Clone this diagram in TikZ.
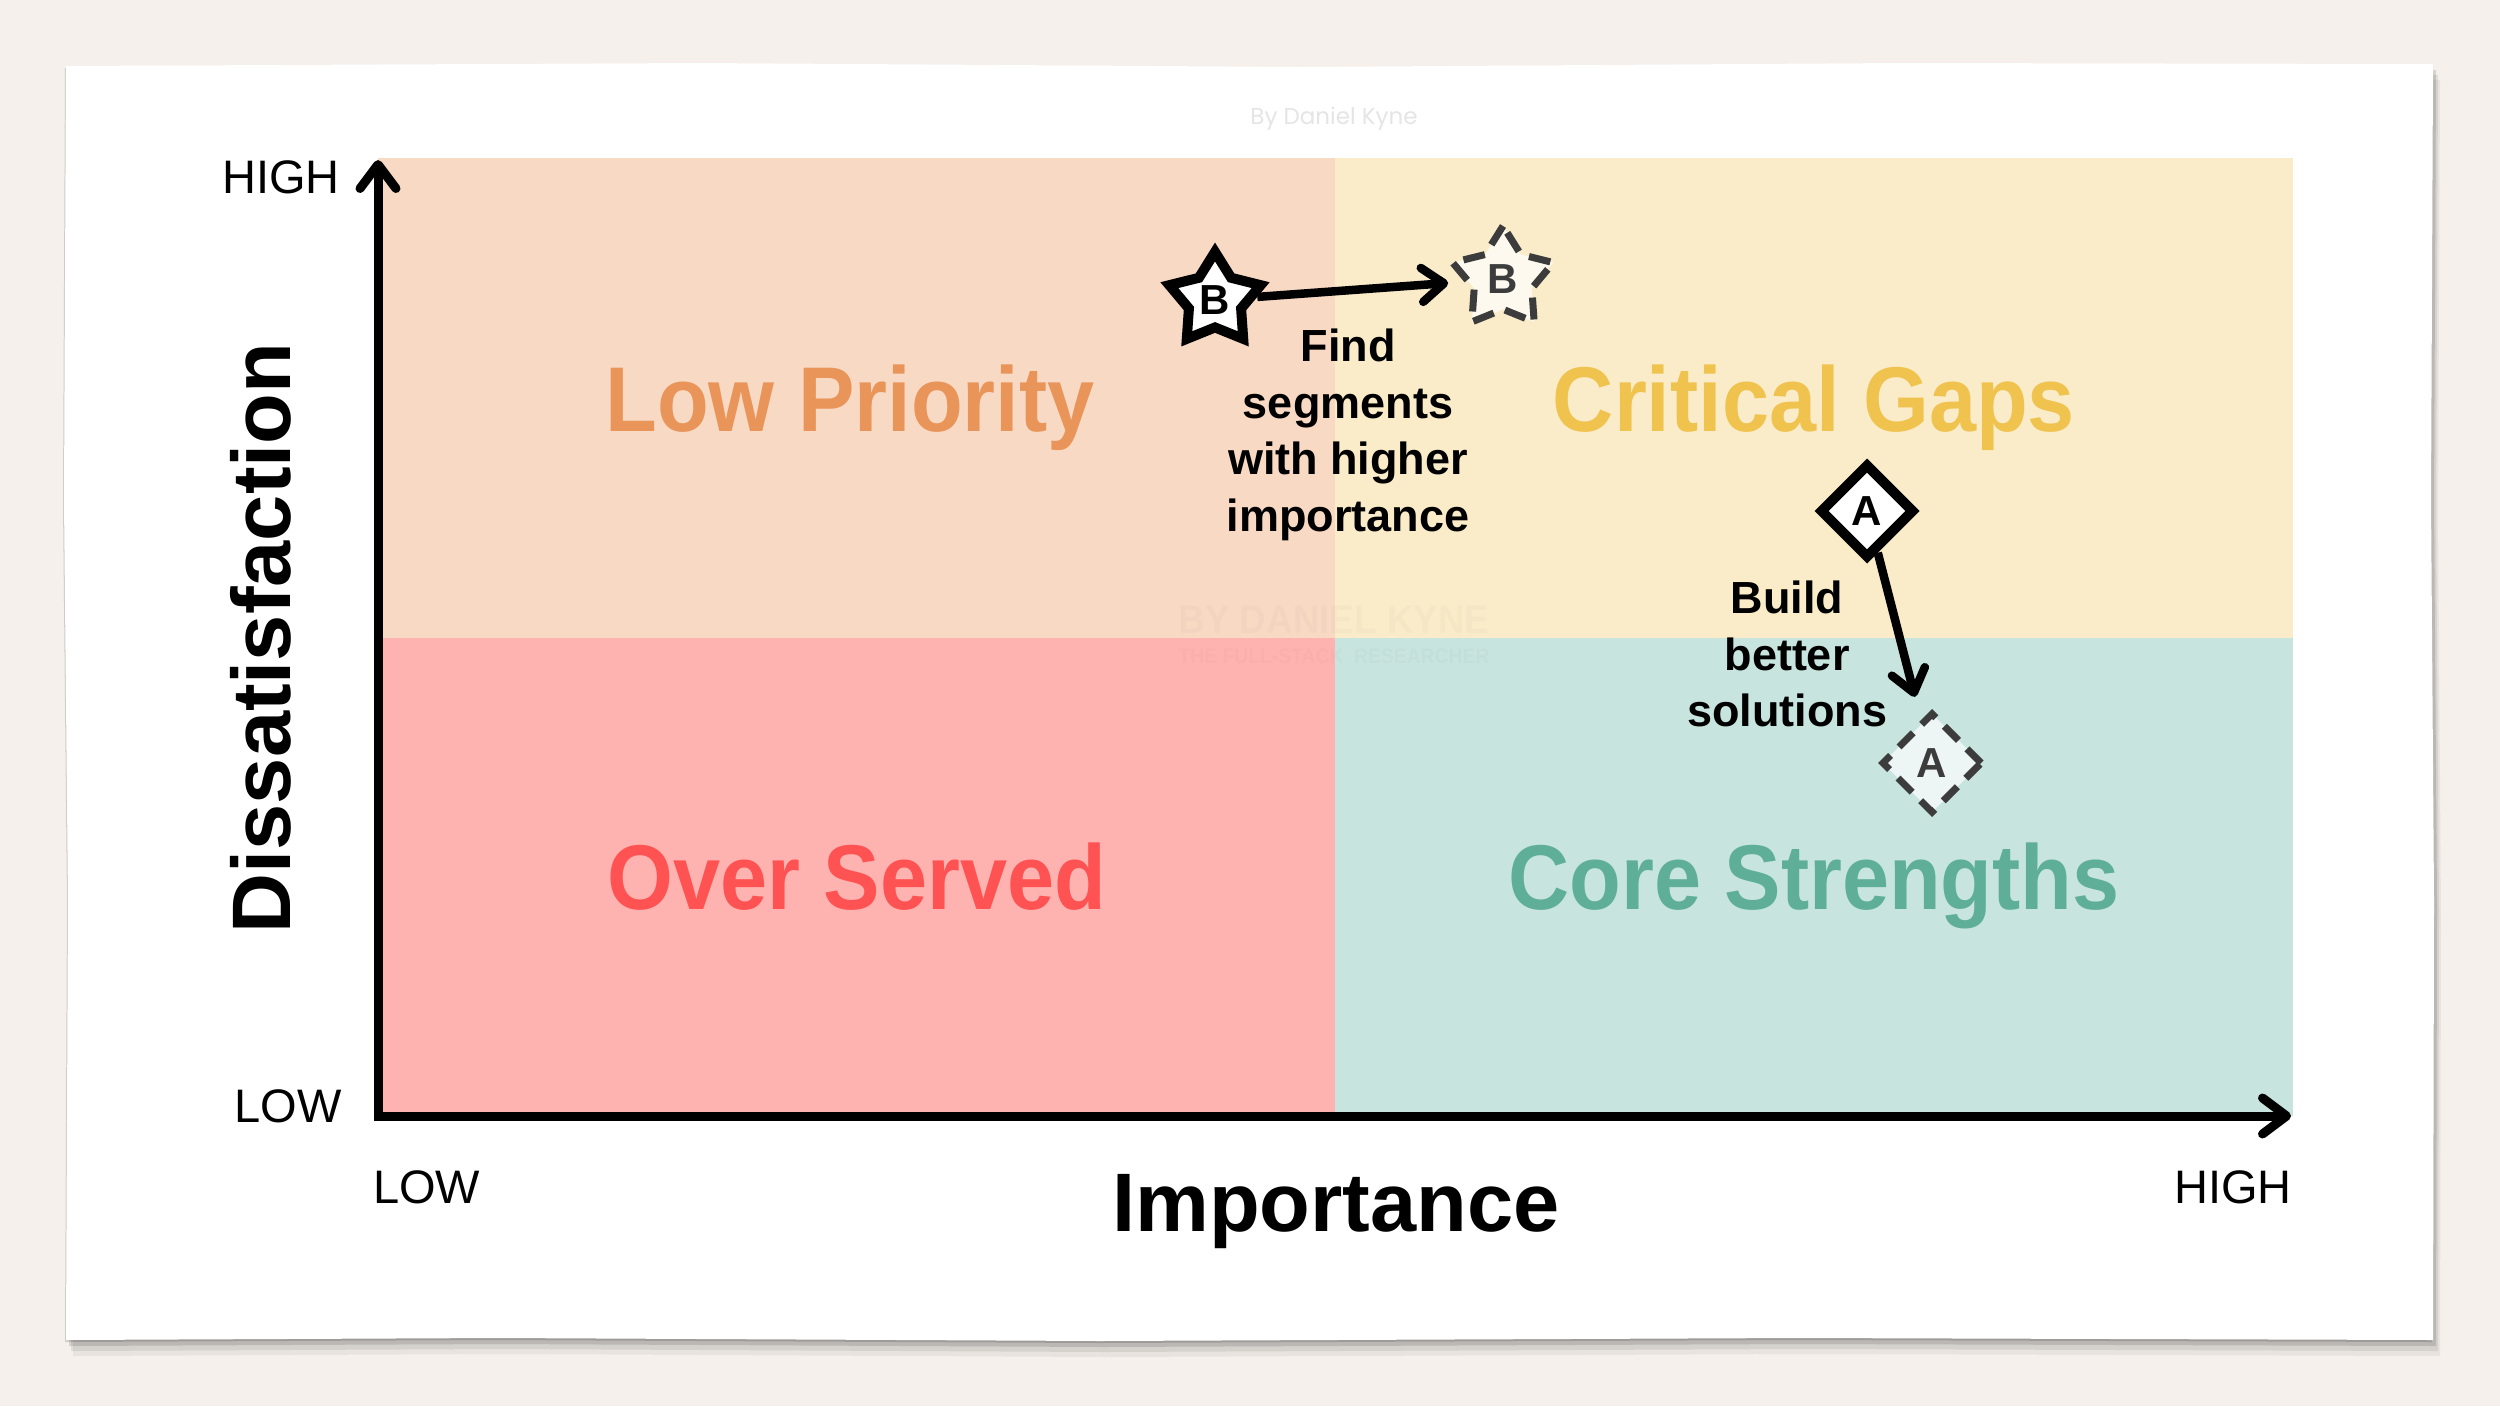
\documentclass[tikz,border=0pt]{standalone}
\usepackage{fontspec}
\setmainfont{Liberation Sans}
\newfontfamily\quadfont[FakeStretch=0.92]{Liberation Sans}
\newfontfamily\topfont{Poppins}
\usetikzlibrary{arrows.meta,shapes.geometric}
\definecolor{bgc}{HTML}{F5F0EB}
\definecolor{qLP}{HTML}{F8D9C4}
\definecolor{qCG}{HTML}{FAECC9}
\definecolor{qOS}{HTML}{FFB3B0}
\definecolor{qCS}{HTML}{C8E4DE}
\definecolor{tLP}{HTML}{E99459}
\definecolor{tCG}{HTML}{F0C24E}
\definecolor{tOS}{HTML}{FF5252}
\definecolor{tCS}{HTML}{5FAF98}
\definecolor{dgray}{HTML}{3C3C3C}
\tikzset{
  paperpath/.style={insert path={(66,66) -- (700,63) -- (1300,67) -- (1900,63) -- (2433,64) -- (2431,500) -- (2434,900) -- (2433,1340) -- (1800,1338) -- (1100,1341) -- (500,1338) -- (66,1340) -- (68,900) -- (64,500) -- cycle}},
  qlabel/.style={anchor=base, inner sep=0pt, font=\quadfont\bfseries\fontsize{92}{92}\selectfont},
  axlabel/.style={inner sep=0pt, font=\fontsize{47}{47}\selectfont},
  axtitle/.style={inner sep=0pt, font=\bfseries\fontsize{83}{83}\selectfont},
  axisline/.style={line width=9pt, line join=miter,
    {Straight Barb[round,length=24pt,width=36pt]}-{Straight Barb[round,length=24pt,width=36pt]}},
  conn/.style={line width=8.5pt, -{Straight Barb[round,length=22pt,width=34pt]}},
  solidstar/.style={star, star points=5, star point ratio=1.75, draw=black, line width=10pt,
    fill=white, inner sep=0pt, minimum size=96pt, font=\bfseries\fontsize{42}{42}\selectfont},
  ghoststar/.style={star, star points=5, star point ratio=1.75, draw=dgray, line width=7pt,
    dash pattern=on 22pt off 12pt, fill=white, fill opacity=0.7, text opacity=1, text=dgray,
    inner sep=0pt, minimum size=106pt, font=\bfseries\fontsize{42}{42}\selectfont},
  soliddiam/.style={diamond, aspect=1, draw=black, line width=10pt, fill=white, inner sep=0pt,
    minimum size=95pt, font=\bfseries\fontsize{42}{42}\selectfont},
  ghostdiam/.style={diamond, aspect=1, draw=dgray, line width=7pt, dash pattern=on 20pt off 12pt,
    fill=white, fill opacity=0.7, text opacity=1, text=dgray, inner sep=0pt,
    minimum size=101pt, font=\bfseries\fontsize{42}{42}\selectfont},
  note/.style={anchor=north, align=center, inner sep=0pt, font=\bfseries\fontsize{45}{56.5}\selectfont}
}
\begin{document}
\begin{tikzpicture}[x=1pt,y=-1pt]
\fill[bgc] (0,0) rectangle (2500,1406);
\useasboundingbox (0,0) rectangle (2500,1406);
% paper with shadow
\fill[black, opacity=0.05, shift={(7,16)}, paperpath];
\fill[black, opacity=0.08, shift={(5,11)}, paperpath];
\fill[black, opacity=0.12, shift={(3,6)}, paperpath];
\fill[black, opacity=0.15, shift={(-1,2)}, paperpath];
\fill[white, paperpath];
\node[inner sep=0pt, anchor=base, text=black!10, font=\topfont\fontsize{23}{23}\selectfont] (credit) at (1334,124) {By Daniel Kyne};
% quadrants
\fill[qLP] (378,158) rectangle (1335,638);
\fill[qCG] (1335,158) rectangle (2293,638);
\fill[qOS] (378,638) rectangle (1335,1116);
\fill[qCS] (1335,638) rectangle (2293,1116);
% watermark
\node[anchor=base, inner sep=0pt, text=black, text opacity=0.02, font=\quadfont\bfseries\fontsize{40}{40}\selectfont] (wm1) at (1334,633) {BY DANIEL KYNE};
\node[anchor=base, inner sep=0pt, text=black, text opacity=0.02, font=\quadfont\bfseries\fontsize{21}{21}\selectfont] (wm2) at (1334,663) {THE FULL-STACK\ \ RESEARCHER};
% quadrant labels
\node[qlabel, text=tLP] (lp) at (850,431) {Low Priority};
\node[qlabel, text=tCG] (cg) at (1814,431) {Critical Gaps};
\node[qlabel, text=tOS] (os) at (857,909) {Over Served};
\node[qlabel, text=tCS] (cs) at (1814,909) {Core Strengths};
% axes
\coordinate (O) at (378,1116);
\coordinate (Ytop) at (378,160);
\coordinate (Xend) at (2291,1116);
\draw[axisline] (Ytop) -- (O) -- (Xend);
\node[axlabel, anchor=base east] (yhigh) at (340,193) {HIGH};
\node[axlabel, anchor=base east] (ylow) at (342,1122) {LOW};
\node[axlabel, anchor=base west] (xlow) at (373,1203) {LOW};
\node[axlabel, anchor=base east] (xhigh) at (2292,1203) {HIGH};
\node[axtitle, anchor=base] (xtitle) at (1336,1231) {Importance};
\node[axtitle, anchor=base, rotate=90] (ytitle) at (290,638) {Dissatisfaction};
% segments
\node[ghoststar] (B2) at (1503,279) {B};
\node[solidstar] (B1) at (1215,300) {B};
\node[ghostdiam] (A2) at (1932,763) {A};
\node[soliddiam] (A1) at (1867,511) {A};
\draw[conn, shorten >=16pt] (B1) -- (B2);
\draw[conn, shorten >=24pt] (A1) -- (A2);
\node[note] (nB) at (1348,329) {Find\\segments\\with higher\\importance};
\node[note] (nA) at (1787,581) {Build\\better\\solutions};
\end{tikzpicture}
\end{document}
